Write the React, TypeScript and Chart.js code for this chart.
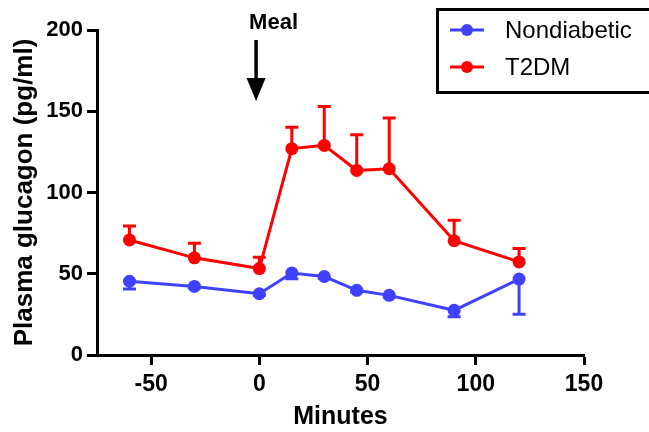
import React, { useEffect, useRef } from "react";
import { Chart, registerables } from "chart.js";

Chart.register(...registerables);

// ---- data ----
const minutes = [-60, -30, 0, 15, 30, 45, 60, 90, 120];
const nondiabetic = [45.4, 42.2, 37.7, 50.4, 48.3, 39.8, 36.7, 27.5, 46.7];
const nondiabeticErr = [4.8, 1, 1, 3.5, 1, 1, 1, 4, 21.6];
const t2dm = [70.8, 59.8, 53.2, 127, 129, 113.6, 114.6, 70.3, 57.3];
const t2dmErr = [8.6, 8.9, 6.9, 13.2, 23.9, 22, 31.2, 12.7, 8.3];
const xTicks = [-50, 0, 50, 100, 150];
const yTicks = [0, 50, 100, 150, 200];
const seriesNames = ["Nondiabetic", "T2DM"];
const mealMinute = -1.5;
const mealLabel = "Meal";

const BLUE = "#4040ff";
const RED = "#ff0000";
const FONT = "'Liberation Sans', Arial, Helvetica, sans-serif";

const errorSeries = [
  { values: t2dm, err: t2dmErr, dir: 1, color: RED },
  { values: nondiabetic, err: nondiabeticErr, dir: -1, color: BLUE },
];

const errorBarPlugin = {
  id: "errorBars",
  beforeDatasetsDraw(chart: any) {
    const { ctx, scales } = chart;
    const xs = scales.x;
    const ys = scales.y;
    ctx.save();
    ctx.lineWidth = 3;
    errorSeries.forEach((s) => {
      ctx.strokeStyle = s.color;
      s.values.forEach((v, i) => {
        const px = xs.getPixelForValue(minutes[i]);
        const py0 = ys.getPixelForValue(v);
        const py1 = ys.getPixelForValue(v + s.dir * s.err[i]);
        ctx.beginPath();
        ctx.moveTo(px, py0);
        ctx.lineTo(px, py1);
        ctx.moveTo(px - 6.5, py1);
        ctx.lineTo(px + 6.5, py1);
        ctx.stroke();
      });
    });
    ctx.restore();
  },
};

const legendPlugin = {
  id: "customLegend",
  afterDraw(chart: any) {
    const { ctx } = chart;
    ctx.save();
    ctx.lineWidth = 3;
    ctx.strokeStyle = "#000";
    ctx.strokeRect(437.5, 9.5, 240, 83);
    const items = [
      { label: seriesNames[0], color: BLUE, y: 30 },
      { label: seriesNames[1], color: RED, y: 67 },
    ];
    items.forEach((it) => {
      ctx.strokeStyle = it.color;
      ctx.fillStyle = it.color;
      ctx.lineWidth = 3;
      ctx.beginPath();
      ctx.moveTo(450, it.y);
      ctx.lineTo(484, it.y);
      ctx.stroke();
      ctx.beginPath();
      ctx.arc(467, it.y, 6, 0, Math.PI * 2);
      ctx.fill();
      ctx.fillStyle = "#000";
      ctx.font = `24px ${FONT}`;
      ctx.textAlign = "left";
      ctx.textBaseline = "middle";
      ctx.fillText(it.label, 505, it.y + 1);
    });
    ctx.restore();
  },
};

const mealPlugin = {
  id: "mealArrow",
  afterDraw(chart: any) {
    const { ctx, scales } = chart;
    const px = scales.x.getPixelForValue(mealMinute);
    ctx.save();
    ctx.fillStyle = "#000";
    ctx.strokeStyle = "#000";
    ctx.font = `bold 22px ${FONT}`;
    ctx.textAlign = "left";
    ctx.textBaseline = "alphabetic";
    ctx.fillText(mealLabel, px - 7, 29);
    ctx.lineWidth = 3.5;
    ctx.beginPath();
    ctx.moveTo(px, 40);
    ctx.lineTo(px, 80);
    ctx.stroke();
    ctx.beginPath();
    ctx.moveTo(px - 9.5, 78);
    ctx.lineTo(px + 9.5, 78);
    ctx.lineTo(px, 101);
    ctx.closePath();
    ctx.fill();
    ctx.restore();
  },
};

export default function App() {
  const ref = useRef<HTMLCanvasElement | null>(null);

  useEffect(() => {
    document.body.style.margin = "0";
    Chart.defaults.font.family = FONT;
    const canvas = ref.current;
    if (!canvas) return;
    const chart = new Chart(canvas, {
      type: "line",
      data: {
        datasets: [
          {
            label: seriesNames[0],
            data: minutes.map((m, i) => ({ x: m, y: nondiabetic[i] })),
            borderColor: BLUE,
            backgroundColor: BLUE,
            borderWidth: 3,
            pointRadius: 6.5,
            pointBorderWidth: 0,
            pointBackgroundColor: BLUE,
            tension: 0,
          },
          {
            label: seriesNames[1],
            data: minutes.map((m, i) => ({ x: m, y: t2dm[i] })),
            borderColor: RED,
            backgroundColor: RED,
            borderWidth: 3,
            pointRadius: 6.5,
            pointBorderWidth: 0,
            pointBackgroundColor: RED,
            tension: 0,
          },
        ],
      },
      options: {
        animation: false,
        responsive: false,
        devicePixelRatio: 1,
        layout: { padding: { top: 30, right: 65, left: 0, bottom: 0 } },
        plugins: {
          legend: { display: false },
          tooltip: { enabled: false },
        },
        scales: {
          x: {
            type: "linear",
            min: -75,
            max: 150,
            afterBuildTicks: (scale: any) => {
              scale.ticks = xTicks.map((v) => ({ value: v }));
            },
            afterFit: (scale: any) => {
              scale.height = 77;
            },
            grid: {
              display: true,
              drawOnChartArea: false,
              drawTicks: true,
              tickLength: 10,
              tickWidth: 3,
              tickColor: "#000",
            },
            border: { display: true, width: 3, color: "#000" },
            ticks: {
              color: "#000",
              padding: 6,
              font: { size: 23, weight: "bold", family: FONT },
              maxRotation: 0,
            },
            title: {
              display: true,
              text: "Minutes",
              color: "#000",
              font: { size: 25, weight: "bold", family: FONT, lineHeight: "22px" },
            },
          },
          y: {
            type: "linear",
            min: 0,
            max: 200,
            afterBuildTicks: (scale: any) => {
              scale.ticks = yTicks.map((v) => ({ value: v }));
            },
            afterFit: (scale: any) => {
              scale.width = 97;
            },
            grid: {
              display: true,
              drawOnChartArea: false,
              drawTicks: true,
              tickLength: 10,
              tickWidth: 3,
              tickColor: "#000",
            },
            border: { display: true, width: 3, color: "#000" },
            ticks: {
              color: "#000",
              padding: 4,
              font: { size: 22, weight: "bold", family: FONT },
            },
            title: {
              display: true,
              text: "Plasma glucagon (pg/ml)",
              color: "#000",
              font: { size: 26, weight: "bold", family: FONT, lineHeight: "42px" },
            },
          },
        },
      } as any,
      plugins: [errorBarPlugin, mealPlugin, legendPlugin],
    });
    return () => chart.destroy();
  }, []);

  return (
    <canvas
      ref={ref}
      width={649}
      height={432}
      style={{ position: "absolute", left: 0, top: 0, display: "block" }}
    />
  );
}
